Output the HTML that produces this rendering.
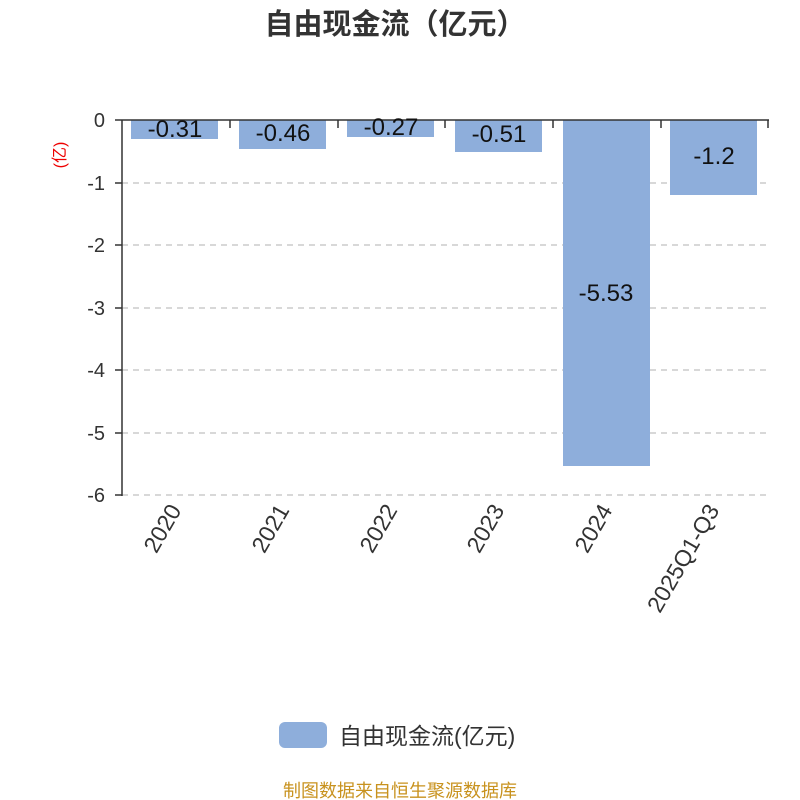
<!DOCTYPE html>
<html><head><meta charset="utf-8"><style>
html,body{margin:0;padding:0;background:#fff;}
svg{display:block;font-family:"Liberation Sans","Noto Sans CJK SC",sans-serif;}
</style></head><body>
<svg width="800" height="800" viewBox="0 0 800 800" xmlns="http://www.w3.org/2000/svg">
<rect width="800" height="800" fill="#fff"/>
<text x="395" y="34" text-anchor="middle" font-size="29" font-weight="bold" fill="#333">自由现金流（亿元）</text>
<g stroke="#ccc" stroke-width="1.5" stroke-dasharray="6,5">
<line x1="122" y1="183" x2="768" y2="183"/>
<line x1="122" y1="245" x2="768" y2="245"/>
<line x1="122" y1="308" x2="768" y2="308"/>
<line x1="122" y1="370" x2="768" y2="370"/>
<line x1="122" y1="433" x2="768" y2="433"/>
<line x1="122" y1="495" x2="768" y2="495"/>
</g>
<g fill="#8eaedb">
<rect x="131" y="120" width="87" height="19"/>
<rect x="239" y="120" width="87" height="29"/>
<rect x="347" y="120" width="87" height="17"/>
<rect x="455" y="120" width="87" height="32"/>
<rect x="563" y="120" width="87" height="346"/>
<rect x="670" y="120" width="87" height="75"/>
</g>
<g stroke="#333" stroke-width="1.5" fill="none">
<line x1="122" y1="120" x2="122" y2="496"/>
<line x1="115" y1="120" x2="769" y2="120"/>
<line x1="115" y1="183" x2="122" y2="183"/>
<line x1="115" y1="245" x2="122" y2="245"/>
<line x1="115" y1="308" x2="122" y2="308"/>
<line x1="115" y1="370" x2="122" y2="370"/>
<line x1="115" y1="433" x2="122" y2="433"/>
<line x1="115" y1="495" x2="122" y2="495"/>
<line x1="230" y1="120" x2="230" y2="128"/>
<line x1="338" y1="120" x2="338" y2="128"/>
<line x1="445" y1="120" x2="445" y2="128"/>
<line x1="553" y1="120" x2="553" y2="128"/>
<line x1="661" y1="120" x2="661" y2="128"/>
<line x1="768" y1="120" x2="768" y2="128"/>
</g>
<g font-size="20" fill="#333" text-anchor="end">
<text x="105" y="127">0</text>
<text x="105" y="190">-1</text>
<text x="105" y="252">-2</text>
<text x="105" y="315">-3</text>
<text x="105" y="377">-4</text>
<text x="105" y="440">-5</text>
<text x="105" y="502">-6</text>
</g>
<text transform="translate(65,155) rotate(-90)" text-anchor="middle" font-size="16" fill="#e00">(亿)</text>
<g font-size="24" fill="#111" text-anchor="middle">
<text x="175" y="137">-0.31</text>
<text x="283" y="141">-0.46</text>
<text x="391" y="135">-0.27</text>
<text x="499" y="142">-0.51</text>
<text x="606" y="301">-5.53</text>
<text x="714" y="164">-1.2</text>
</g>
<g font-size="23" fill="#333" text-anchor="end">
<text transform="translate(182,510) rotate(-60)">2020</text>
<text transform="translate(290,510) rotate(-60)">2021</text>
<text transform="translate(398,510) rotate(-60)">2022</text>
<text transform="translate(505,510) rotate(-60)">2023</text>
<text transform="translate(613,510) rotate(-60)">2024</text>
<text transform="translate(720,510) rotate(-60)">2025Q1-Q3</text>
</g>
<rect x="279" y="722" width="48" height="26" rx="6" fill="#8eaedb"/>
<text x="339" y="744" font-size="23" fill="#333">自由现金流(亿元)</text>
<text x="400" y="797" text-anchor="middle" font-size="18" fill="#c8921e">制图数据来自恒生聚源数据库</text>
</svg>
</body></html>
